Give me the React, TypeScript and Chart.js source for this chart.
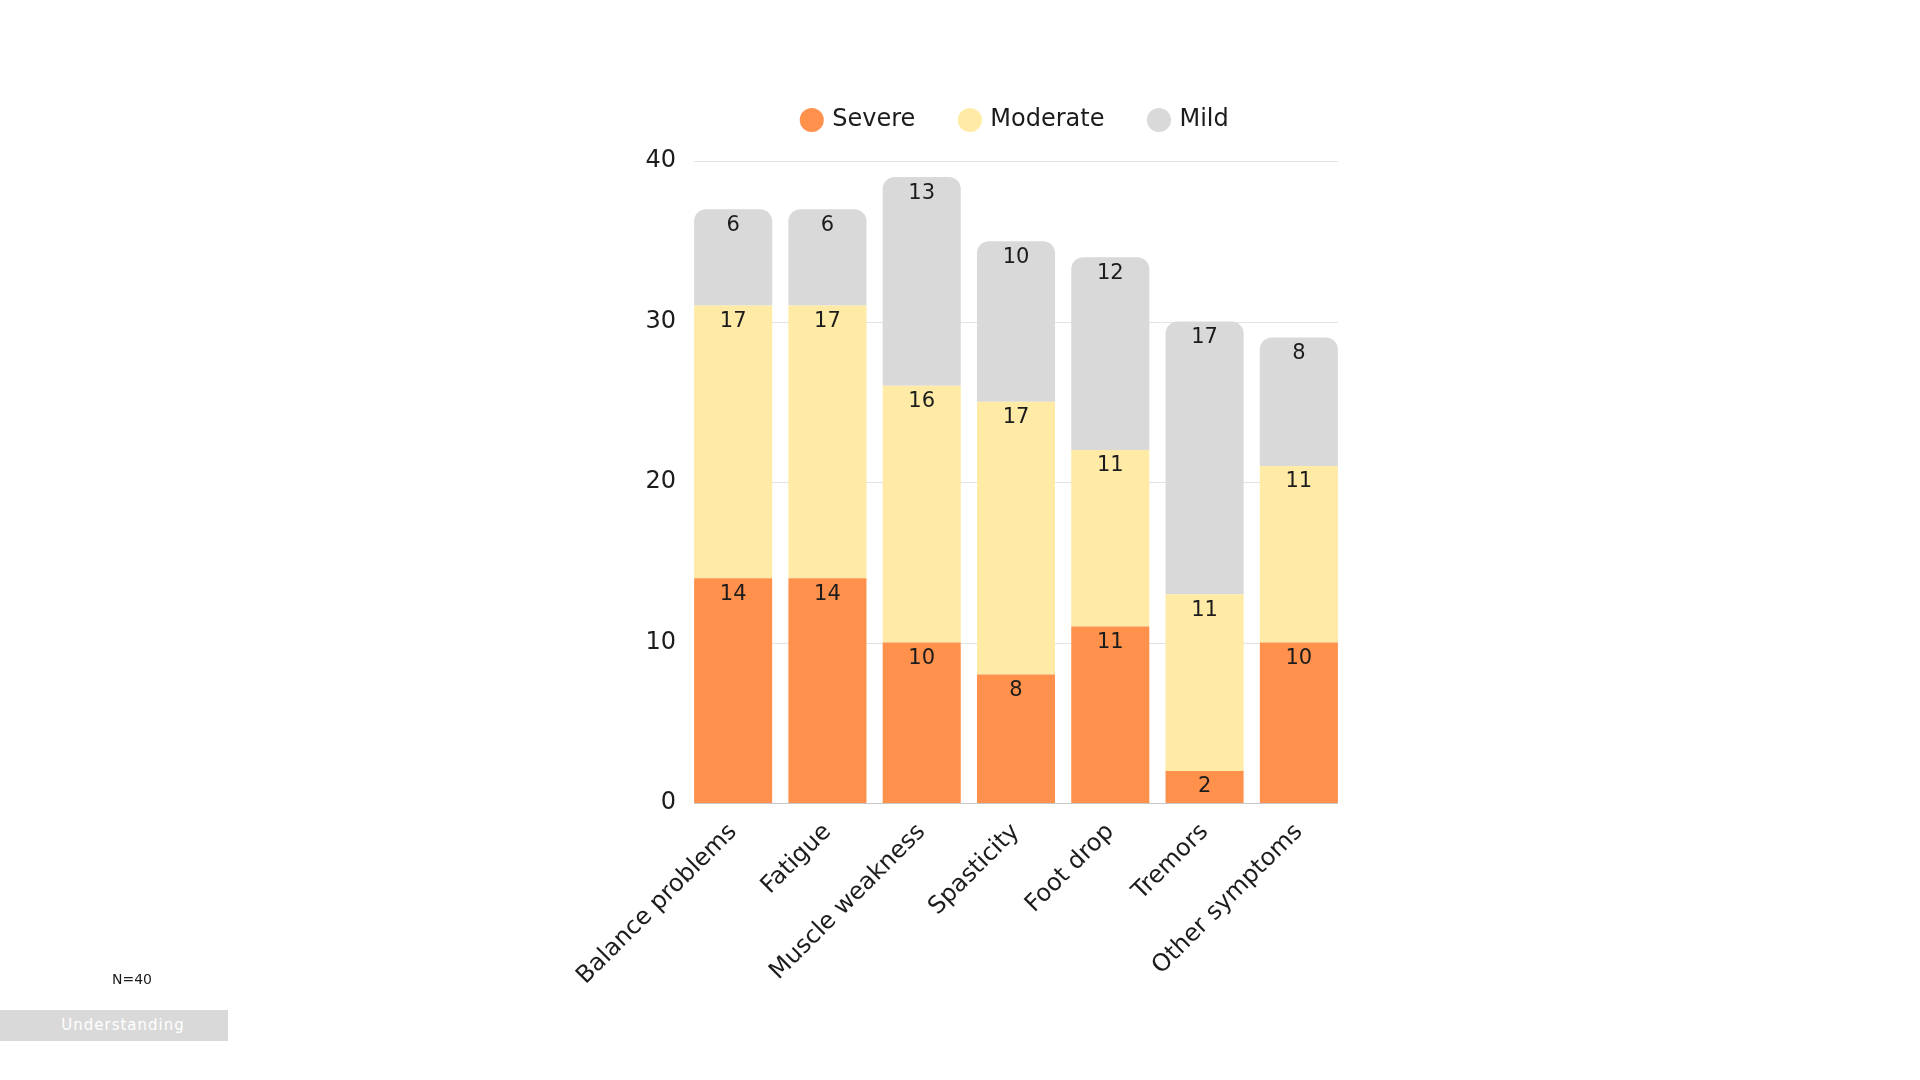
import React, { useEffect, useRef } from "react";
import { Chart, registerables } from "chart.js";

Chart.register(...registerables);

const categories = [
  "Balance problems",
  "Fatigue",
  "Muscle weakness",
  "Spasticity",
  "Foot drop",
  "Tremors",
  "Other symptoms",
];
const severe = [14, 14, 10, 8, 11, 2, 10];
const moderate = [17, 17, 16, 17, 11, 11, 11];
const mild = [6, 6, 13, 10, 12, 17, 8];
const yTicks = [0, 10, 20, 30, 40];

const FONT = "'DejaVu Sans', sans-serif";
const TEXT = "#1c1c1c";

const gridPlugin = {
  id: "customGrid",
  beforeDatasetsDraw(chart: any) {
    const meta = chart.getDatasetMeta(0);
    const els = meta.data;
    if (!els.length) return;
    const f = els[0].getProps(["x", "width"], true);
    const l = els[els.length - 1].getProps(["x", "width"], true);
    const left = f.x - f.width / 2;
    const right = l.x + l.width / 2;
    const ys = chart.scales.y;
    const ctx = chart.ctx;
    ctx.save();
    ctx.lineWidth = 1;
    yTicks.forEach((v) => {
      const py = Math.round(ys.getPixelForValue(v)) + 0.5;
      ctx.strokeStyle = v === 0 ? "#c9c9c9" : "#e3e3e3";
      ctx.beginPath();
      ctx.moveTo(left, py);
      ctx.lineTo(right, py);
      ctx.stroke();
    });
    ctx.restore();
  },
};

const labelPlugin = {
  id: "segLabels",
  afterDatasetsDraw(chart: any) {
    const ctx = chart.ctx;
    ctx.save();
    ctx.font = `21px ${FONT}`;
    ctx.fillStyle = TEXT;
    ctx.textAlign = "center";
    ctx.textBaseline = "middle";
    chart.data.datasets.forEach((ds: any, i: number) => {
      const meta = chart.getDatasetMeta(i);
      meta.data.forEach((el: any, j: number) => {
        const p = el.getProps(["x", "y"], true);
        ctx.fillText(String(ds.data[j]), p.x, p.y + 16);
      });
    });
    ctx.restore();
  },
};

export default function App() {
  const ref = useRef<HTMLCanvasElement | null>(null);

  useEffect(() => {
    if (!ref.current) return;
    const chart = new Chart(ref.current, {
      type: "bar",
      data: {
        labels: categories,
        datasets: [
          {
            label: "Severe",
            data: severe,
            backgroundColor: "#FF914D",
            borderWidth: 0,
            borderRadius: 0,
          },
          {
            label: "Moderate",
            data: moderate,
            backgroundColor: "#FFEAA6",
            borderWidth: 0,
            borderRadius: 0,
          },
          {
            label: "Mild",
            data: mild,
            backgroundColor: "#D9D9D9",
            borderWidth: 0,
            borderSkipped: false,
            borderRadius: { topLeft: 12, topRight: 12, bottomLeft: 0, bottomRight: 0 },
          },
        ] as any,
      },
      plugins: [gridPlugin, labelPlugin],
      options: {
        responsive: false,
        animation: false,
        devicePixelRatio: 1,
        datasets: {
          bar: { categoryPercentage: 1, barPercentage: 0.828 },
        },
        layout: { padding: { left: 620, right: 574, top: 62, bottom: 77 } },
        plugins: {
          tooltip: { enabled: false },
          legend: {
            position: "top",
            fullSize: false,
            labels: {
              usePointStyle: true,
              pointStyle: "circle",
              boxWidth: 17,
              boxHeight: 17,
              padding: 46,
              color: TEXT,
              font: { family: FONT, size: 24 },
            },
          },
          subtitle: {
            display: true,
            text: "",
            position: "top",
            fullSize: false,
            weight: 500,
            font: { size: 1, lineHeight: 1 },
            padding: { top: 0, bottom: 18 },
          },
        },
        scales: {
          x: {
            stacked: true,
            offset: true,
            grid: { display: false, drawTicks: false },
            border: { display: false },
            ticks: {
              minRotation: 45,
              maxRotation: 45,
              padding: 15,
              color: TEXT,
              font: { family: FONT, size: 24 },
            },
            afterFit: (s: any) => {
              s.height = 200;
            },
          },
          y: {
            stacked: true,
            min: 0,
            max: 40,
            grid: { display: false, drawTicks: false },
            border: { display: false },
            ticks: {
              stepSize: 10,
              padding: 10,
              color: TEXT,
              font: { family: FONT, size: 24 },
            },
            afterFit: (s: any) => {
              s.width = 66;
            },
          },
        },
      } as any,
    });
    return () => chart.destroy();
  }, []);

  return (
    <div style={{ position: "absolute", left: 0, top: 0, width: 1920, height: 1080, background: "#fff" }}>
      <canvas ref={ref} width={1920} height={1080} style={{ position: "absolute", left: 0, top: 0 }} />
      <div
        style={{
          position: "absolute",
          left: 90,
          top: 971,
          width: 84,
          textAlign: "center",
          fontFamily: FONT,
          fontSize: 14,
          color: TEXT,
        }}
      >
        N=40
      </div>
      <div
        style={{
          position: "absolute",
          left: 0,
          top: 1010,
          width: 228,
          height: 31,
          background: "#D9D9D9",
          color: "#fff",
          fontFamily: FONT,
          fontSize: 15,
          letterSpacing: 1,
          lineHeight: "31px",
          textAlign: "center",
          paddingLeft: 18,
          boxSizing: "border-box",
        }}
      >
        Understanding
      </div>
    </div>
  );
}
